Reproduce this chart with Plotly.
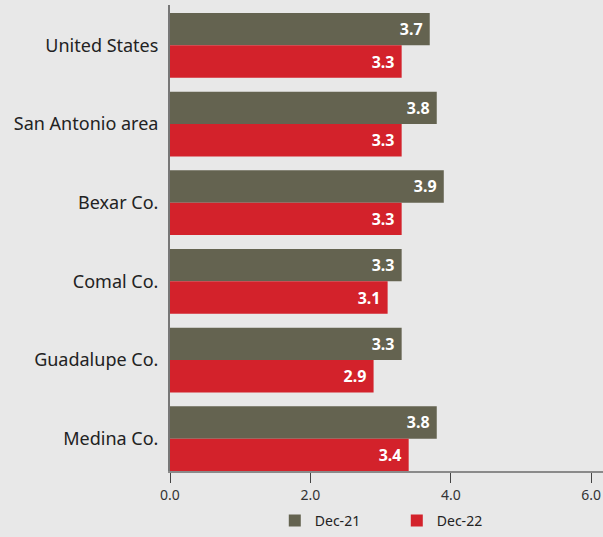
import plotly.graph_objects as go

categories = ["United States", "San Antonio area", "Bexar Co.", "Comal Co.", "Guadalupe Co.", "Medina Co."]
dec21 = [3.7, 3.8, 3.9, 3.3, 3.3, 3.8]
dec22 = [3.3, 3.3, 3.3, 3.1, 2.9, 3.4]
series_names = ["Dec-21", "Dec-22"]
x_ticks = [0, 2, 4, 6]
x_tick_labels = ["0.0", "2.0", "4.0", "6.0"]

FONT = "Noto Sans"
fig = go.Figure()
for name, vals, color in [(series_names[0], dec21, "#646350"), (series_names[1], dec22, "#d3222b")]:
    fig.add_trace(go.Bar(
        y=categories, x=vals, name=name, orientation="h",
        marker=dict(color=color, line=dict(width=0)),
        text=vals, texttemplate="<b>%{x:.1f}</b>\u00a0", textposition="inside",
        insidetextanchor="end",
        textfont=dict(family=FONT, size=16, color="white"),
        cliponaxis=False,
    ))

fig.update_layout(
    width=603, height=537,
    margin=dict(l=170, r=0, t=5, b=64),
    paper_bgcolor="#e8e8e8", plot_bgcolor="#e8e8e8",
    barmode="group", bargap=0.177, bargroupgap=0,
    font=dict(family=FONT, color="#222"),
    showlegend=True,
    legend=dict(orientation="h", x=0.242, xanchor="left", y=-0.108, yanchor="middle",
                font=dict(family=FONT, size=14, color="#222"), traceorder="normal",
                entrywidth=77, entrywidthmode="pixels", itemwidth=30),
    uniformtext=dict(mode="show", minsize=10),
)
fig.update_xaxes(
    range=[0, 6.168], tickvals=x_ticks, ticktext=x_tick_labels,
    showgrid=False, zeroline=False, showline=True, linecolor="#8a8a8a", linewidth=1.5,
    ticks="outside", ticklen=10, tickcolor="#444", tickwidth=1,
    tickfont=dict(family=FONT, size=14, color="#333"),
)
fig.update_yaxes(
    categoryorder="array", categoryarray=categories,
    range=[5.411, -0.513],
    showgrid=False, zeroline=False, showline=True, linecolor="#777", linewidth=2,
    ticks="", ticklabelstandoff=6,
    tickfont=dict(family=FONT, size=18, color="#222"),
)
fig.write_html("out.html")
